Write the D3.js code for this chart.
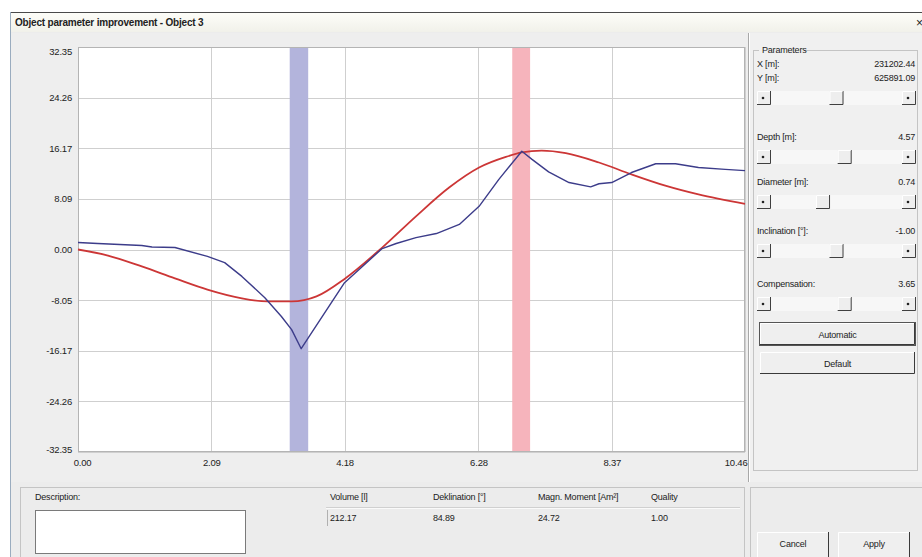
<!DOCTYPE html>
<html>
<head>
<meta charset="utf-8">
<script src="https://cdn.jsdelivr.net/npm/d3@7"></script>
<style>
  body { margin: 0; background: #fff; }
  svg { display: block; }
  text { font-family: "Liberation Sans Narrow", "Arial Narrow", "Liberation Sans", sans-serif; fill: #222; letter-spacing: -0.2px; }
</style>
</head>
<body>
<div id="chart"></div>
<script>

// ---- chart data ----
var xTicks = [0.00, 2.09, 4.18, 6.28, 8.37, 10.46];
var xTickLabels = ["0.00", "2.09", "4.18", "6.28", "8.37", "10.46"];
var yTicks = [32.35, 24.26, 16.17, 8.09, 0.00, -8.09, -16.17, -24.26, -32.35];
var yTickLabels = ["32.35", "24.26", "16.17", "8.09", "0.00", "-8.05", "-16.17", "-24.26", "-32.35"];

// measured profile (blue)
var measX = [0.00, 0.31, 1.00, 1.16, 1.52, 2.03, 2.30, 2.57, 2.93, 3.19, 3.35, 3.50, 3.85, 4.18, 4.46, 4.77, 4.99, 5.30, 5.62, 5.98, 6.29, 6.60, 6.96, 7.12, 7.38, 7.70, 8.04, 8.17, 8.37, 8.68, 9.06, 9.37, 9.73, 10.15, 10.46];
var measY = [1.12, 0.96, 0.64, 0.40, 0.32, -1.1, -2.1, -4.3, -7.7, -10.7, -12.8, -15.85, -10.4, -5.3, -2.7, 0.15, 0.96, 1.9, 2.55, 4.0, 6.9, 11.2, 15.7, 14.4, 12.4, 10.7, 10.0, 10.5, 10.7, 12.3, 13.7, 13.7, 13.1, 12.8, 12.6];

// fitted model (red)
var modelX = [0.00, 0.47, 1.00, 1.52, 2.03, 2.57, 2.97, 3.35, 3.74, 4.18, 4.77, 5.30, 5.82, 6.29, 6.71, 6.96, 7.27, 7.65, 8.17, 8.68, 9.21, 9.73, 10.46];
var modelY = [0.0, -0.96, -2.7, -4.6, -6.4, -7.8, -8.3, -8.3, -7.5, -4.7, 0.3, 5.3, 9.9, 13.1, 14.8, 15.5, 15.8, 15.4, 13.9, 12.0, 10.2, 8.8, 7.3];

// highlighted ranges
var bandStart = [3.32, 6.81];
var bandEnd = [3.61, 7.09];
var bandColor = ["#b3b4dc", "#f6b4bc"];

// dialog texts
var paramLabels = ["Depth [m]:", "Diameter [m]:", "Inclination [°]:", "Compensation:"];
var paramValues = ["4.57", "0.74", "-1.00", "3.65"];
var sliderPos = [0.50, 0.57, 0.385, 0.50, 0.57];
var resultLabels = ["Volume [l]", "Deklination [°]", "Magn. Moment [Am²]", "Quality"];
var resultValues = ["212.17", "84.89", "24.72", "1.00"];

var W = 922, H = 557;
var plot = {left: 78, right: 745, top: 47, bottom: 452};
var fs = 9;

var svg = d3.select("#chart").append("svg")
    .attr("width", W)
    .attr("height", H);

var defs = svg.append("defs");
var tg = defs.append("linearGradient").attr("id", "titlegrad").attr("x1", 0).attr("y1", 0).attr("x2", 0).attr("y2", 1);
tg.append("stop").attr("offset", "0%").attr("stop-color", "#fdfdf8");
tg.append("stop").attr("offset", "100%").attr("stop-color", "#f1f1ea");

// window frame
svg.append("rect").attr("x", 10).attr("y", 12).attr("width", W - 10).attr("height", H - 12).attr("fill", "#ececec");
svg.append("rect").attr("x", 11).attr("y", 13).attr("width", W - 11).attr("height", 19).attr("fill", "url(#titlegrad)");
svg.append("line").attr("x1", 10).attr("x2", W).attr("y1", 12.5).attr("y2", 12.5).attr("stroke", "#4a4a4a");
svg.append("line").attr("x1", 10.5).attr("x2", 10.5).attr("y1", 12).attr("y2", H).attr("stroke", "#9aacbf");
svg.append("text").attr("x", 15).attr("y", 26).attr("font-size", 10).attr("font-weight", "bold")
    .attr("fill", "#3a3a3a").text("Object parameter improvement - Object 3");
svg.append("text").attr("x", 916).attr("y", 27).attr("font-size", 12).text("×");

// chart panel
svg.append("rect").attr("x", 11).attr("y", 33).attr("width", 737).attr("height", 449).attr("fill", "#eeeeee");
svg.append("line").attr("x1", 748.5).attr("x2", 748.5).attr("y1", 33).attr("y2", 482).attr("stroke", "#a8a8a8");
svg.append("line").attr("x1", 749.5).attr("x2", 749.5).attr("y1", 33).attr("y2", 482).attr("stroke", "#ffffff");

var x = d3.scaleLinear().domain([0, 10.46]).range([plot.left, plot.right]);
var y = d3.scaleLinear().domain([-32.35, 32.35]).range([plot.bottom, plot.top]);

svg.append("rect")
    .attr("x", plot.left).attr("y", plot.top)
    .attr("width", plot.right - plot.left).attr("height", plot.bottom - plot.top)
    .attr("fill", "#ffffff");

// grid
var grid = svg.append("g");
grid.selectAll(".vg").data(xTicks).enter().append("line")
    .attr("x1", d => Math.round(x(d)) + 0.5).attr("x2", d => Math.round(x(d)) + 0.5)
    .attr("y1", plot.top).attr("y2", plot.bottom)
    .attr("stroke", "#cfcfcf");
grid.selectAll(".hg").data(yTicks).enter().append("line")
    .attr("x1", plot.left).attr("x2", plot.right)
    .attr("y1", d => Math.round(y(d)) + 0.5).attr("y2", d => Math.round(y(d)) + 0.5)
    .attr("stroke", "#cfcfcf");

// bands
svg.selectAll(".band").data(bandStart).enter().append("rect")
    .attr("x", d => x(d))
    .attr("width", (d, i) => x(bandEnd[i]) - x(d))
    .attr("y", plot.top).attr("height", plot.bottom - plot.top)
    .attr("fill", (d, i) => bandColor[i]);

// plot border
svg.append("rect")
    .attr("x", plot.left + 0.5).attr("y", plot.top + 0.5)
    .attr("width", plot.right - plot.left - 1).attr("height", plot.bottom - plot.top - 1)
    .attr("fill", "none").attr("stroke", "#b4b4b4");

// axes as text labels
var xAxis = d3.axisBottom(x).tickValues(xTicks).tickSize(0).tickFormat((d, i) => xTickLabels[i]);
var gx = svg.append("g").attr("transform", "translate(0," + plot.bottom + ")").call(xAxis);
gx.select(".domain").remove();
gx.selectAll("text").attr("font-size", 9.5).attr("dy", "1.2em").attr("fill", "#222")
    .attr("font-family", "Liberation Sans Narrow, Arial Narrow, Liberation Sans, sans-serif");
gx.selectAll(".tick").filter((d, i) => i === xTicks.length - 1).select("text").attr("text-anchor", "end").attr("dx", "2");
gx.selectAll(".tick").filter((d, i) => i === 0).select("text").attr("dx", "4");

var yAxis = d3.axisLeft(y).tickValues(yTicks).tickSize(0).tickPadding(6).tickFormat((d, i) => yTickLabels[i]);
var gy = svg.append("g").attr("transform", "translate(" + plot.left + ",0)").call(yAxis);
gy.select(".domain").remove();
gy.selectAll("text").attr("font-size", 9.5).attr("fill", "#222")
    .attr("font-family", "Liberation Sans Narrow, Arial Narrow, Liberation Sans, sans-serif");
gy.selectAll(".tick").filter((d, i) => i === 0).select("text").attr("dy", "0.8em");
gy.selectAll(".tick").filter((d, i) => i === yTicks.length - 1).select("text").attr("dy", "0");

// curves
var modelLine = d3.line().x((d, i) => x(modelX[i])).y(d => y(d)).curve(d3.curveMonotoneX);
var measLine = d3.line().x((d, i) => x(measX[i])).y(d => y(d)).curve(d3.curveLinear);

svg.append("path").datum(modelY).attr("d", modelLine)
    .attr("fill", "none").attr("stroke", "#cc3636").attr("stroke-width", 1.8);
svg.append("path").datum(measY).attr("d", measLine)
    .attr("fill", "none").attr("stroke", "#3c3c8a").attr("stroke-width", 1.4)
    .attr("stroke-linejoin", "round");

// ---- right parameter panel ----
var rp = svg.append("g");
rp.append("rect").attr("x", 750).attr("y", 33).attr("width", W - 750).attr("height", 449).attr("fill", "#f0f0f0");
rp.append("rect").attr("x", 753.5).attr("y", 50.5).attr("width", 164).attr("height", 420)
    .attr("fill", "none").attr("stroke", "#c4c4c4");
rp.append("rect").attr("x", 759).attr("y", 44).attr("width", 45).attr("height", 12).attr("fill", "#f0f0f0");
rp.append("text").attr("x", 762).attr("y", 53).attr("font-size", fs).text("Parameters");

function valueRow(label, value, yy) {
  rp.append("text").attr("x", 757).attr("y", yy).attr("font-size", fs).text(label);
  rp.append("text").attr("x", 915).attr("y", yy).attr("font-size", fs).attr("text-anchor", "end").text(value);
}

function slider(yy, pos) {
  var x0 = 757, x1 = 916, bw = 14, h = 14;
  var g = rp.append("g");
  g.append("rect").attr("x", x0).attr("y", yy).attr("width", x1 - x0).attr("height", h).attr("fill", "#f7f7f7");
  function btn(bx) {
    g.append("rect").attr("x", bx).attr("y", yy).attr("width", bw).attr("height", h).attr("fill", "#eeeeee");
    g.append("path").attr("d", "M" + (bx + bw - 0.5) + "," + yy + "V" + (yy + h - 0.5) + "H" + bx)
        .attr("fill", "none").attr("stroke", "#404040");
    g.append("path").attr("d", "M" + (bx + 0.5) + "," + (yy + h - 1) + "V" + (yy + 0.5) + "H" + (bx + bw - 1))
        .attr("fill", "none").attr("stroke", "#ffffff");
  }
  btn(x0);
  btn(x1 - bw);
  g.append("circle").attr("cx", x0 + 6).attr("cy", yy + 7).attr("r", 1.3).attr("fill", "#222");
  g.append("circle").attr("cx", x1 - 8).attr("cy", yy + 7).attr("r", 1.3).attr("fill", "#222");
  var tx = x0 + bw + pos * (x1 - x0 - 3 * bw);
  btn(tx);
}

valueRow("X [m]:", "231202.44", 67);
valueRow("Y [m]:", "625891.09", 81);
slider(91, sliderPos[0]);
var rowY = [140, 185, 234, 287];
paramLabels.forEach(function (lab, i) {
  valueRow(lab, paramValues[i], rowY[i]);
  slider(rowY[i] + 10, sliderPos[i + 1]);
});

function button(bx, by, bwid, bh, label, bold) {
  var g = rp.append("g");
  g.append("rect").attr("x", bx).attr("y", by).attr("width", bwid).attr("height", bh).attr("fill", "#efefef");
  g.append("path").attr("d", "M" + (bx + bwid - 0.5) + "," + by + "V" + (by + bh - 0.5) + "H" + bx)
      .attr("fill", "none").attr("stroke", "#3a3a3a");
  g.append("path").attr("d", "M" + (bx + 0.5) + "," + (by + bh - 1) + "V" + (by + 0.5) + "H" + (bx + bwid - 1))
      .attr("fill", "none").attr("stroke", "#ffffff");
  if (bold) {
    g.append("rect").attr("x", bx - 0.5).attr("y", by - 0.5).attr("width", bwid + 1).attr("height", bh + 1)
        .attr("fill", "none").attr("stroke", "#555");
  }
  g.append("text").attr("x", bx + bwid / 2).attr("y", by + bh / 2 + 3.5).attr("font-size", fs)
      .attr("text-anchor", "middle").text(label);
}
button(760, 323, 155, 22, "Automatic", true);
button(760, 352, 155, 22, "Default", false);

// ---- bottom result panel ----
var bp = svg.append("g");
bp.append("rect").attr("x", 11).attr("y", 482).attr("width", W - 11).attr("height", H - 482).attr("fill", "#ececec");
bp.append("rect").attr("x", 20.5).attr("y", 487.5).attr("width", 724).attr("height", 80)
    .attr("fill", "none").attr("stroke", "#c4c4c4");
bp.append("rect").attr("x", 750.5).attr("y", 487.5).attr("width", 180).attr("height", 80)
    .attr("fill", "none").attr("stroke", "#c4c4c4");
bp.append("text").attr("x", 35).attr("y", 500).attr("font-size", fs).text("Description:");
bp.append("rect").attr("x", 35.5).attr("y", 510.5).attr("width", 210).attr("height", 43)
    .attr("fill", "#ffffff").attr("stroke", "#7a7a7a");

var resX = [330, 433, 538, 651];
resultLabels.forEach(function (lab, i) {
  bp.append("text").attr("x", resX[i]).attr("y", 500).attr("font-size", fs).text(lab);
  bp.append("text").attr("x", resX[i]).attr("y", 521).attr("font-size", fs).text(resultValues[i]);
});
bp.append("line").attr("x1", 326).attr("x2", 740).attr("y1", 507.5).attr("y2", 507.5).attr("stroke", "#d0d0d0");
bp.append("line").attr("x1", 326).attr("x2", 740).attr("y1", 508.5).attr("y2", 508.5).attr("stroke", "#fafafa");
bp.append("line").attr("x1", 327.5).attr("x2", 327.5).attr("y1", 510).attr("y2", 526).attr("stroke", "#b0b0b0");

function bbutton(bx, label) {
  var by = 532, bwid = 72, bh = 25;
  bp.append("rect").attr("x", bx).attr("y", by).attr("width", bwid).attr("height", bh).attr("fill", "#efefef");
  bp.append("path").attr("d", "M" + (bx + bwid - 0.5) + "," + by + "V" + (by + bh))
      .attr("fill", "none").attr("stroke", "#3a3a3a");
  bp.append("path").attr("d", "M" + (bx + 0.5) + "," + (by + bh) + "V" + (by + 0.5) + "H" + (bx + bwid - 1))
      .attr("fill", "none").attr("stroke", "#ffffff");
  bp.append("text").attr("x", bx + bwid / 2).attr("y", by + 15).attr("font-size", fs)
      .attr("text-anchor", "middle").text(label);
}
bbutton(757, "Cancel");
bbutton(838, "Apply");

</script>
</body>
</html>
